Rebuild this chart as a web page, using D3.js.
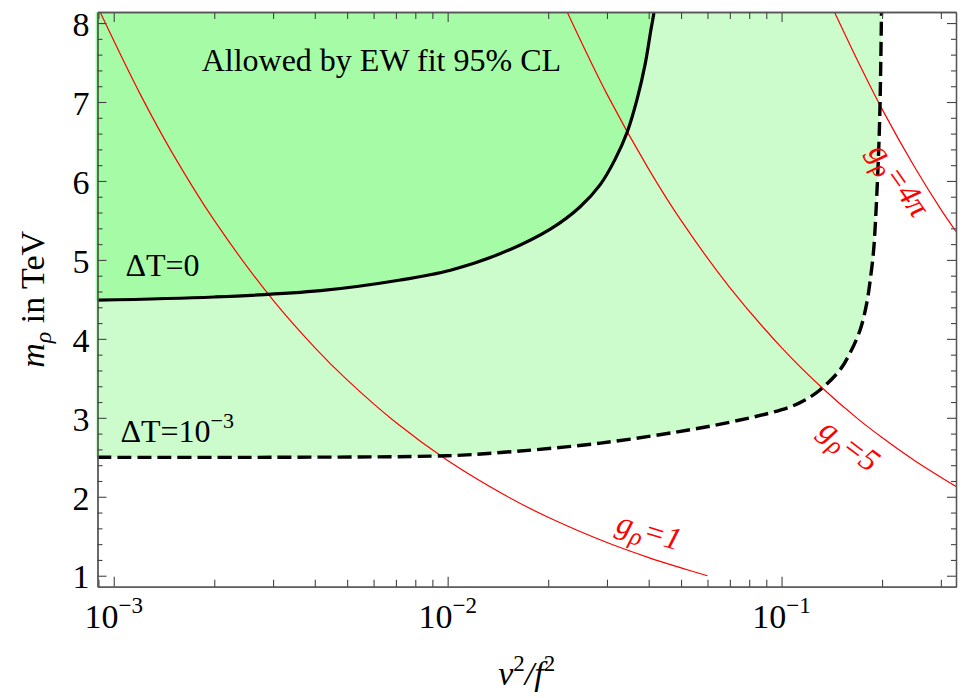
<!DOCTYPE html>
<html>
<head>
    <style>
        body { margin: 0; background: #fff; }
        text { font-family: "Liberation Serif", "Times New Roman", serif; }
        .axis .domain { stroke: #555; stroke-width: 1.3px; }
        .axis .tick line { stroke: #444; stroke-width: 1.1px; }
        .axis text { font-size: 34px; fill: #000; font-family: "Liberation Serif", "Times New Roman", serif; }
        .redlabel { fill: #ff0000; font-size: 32px; font-style: italic; }
        .note { font-size: 32px; fill: #000; }
    </style>
    <script src="https://d3js.org/d3.v7.min.js"></script>
</head>
<body>
    <svg width="963" height="698"></svg>

    <script>
        // values: [v^2/f^2, m_rho (TeV)]
        var deltaT0 = [[8.94e-4, 4.49], [0.002, 4.53], [0.00416, 4.61], [0.00722, 4.745], [0.0102, 4.87],
                       [0.0144, 5.08], [0.0203, 5.39], [0.0249, 5.67], [0.0286, 5.95], [0.0317, 6.27],
                       [0.0345, 6.62], [0.0369, 7.03], [0.0390, 7.47], [0.0406, 7.91], [0.0415, 8.14],
                       [0.0421, 8.42]];
        var deltaT3 = [[8.94e-4, 2.50], [0.003, 2.50], [0.01, 2.52], [0.0144, 2.56], [0.0287, 2.68],
                       [0.057, 2.871], [0.0804, 3.0], [0.0924, 3.061], [0.106, 3.137], [0.1176, 3.226],
                       [0.1303, 3.352], [0.1496, 3.606], [0.1603, 3.82], [0.1718, 4.11], [0.1799, 4.45],
                       [0.1849, 4.79], [0.1883, 5.08], [0.1905, 5.38], [0.1962, 6.61], [0.1992, 8.14],
                       [0.1999, 8.8]];
        var g1 = [[9.1e-4, 8.14], [0.0012, 7.10], [0.0015, 6.35], [0.002, 5.50], [0.003, 4.49], [0.004, 3.89],
                  [0.005, 3.48], [0.007, 2.94], [0.01, 2.46], [0.015, 2.01], [0.02, 1.74], [0.03, 1.42],
                  [0.04, 1.23], [0.05, 1.10], [0.06, 1.00]];
        var g5 = [[0.0228, 8.14], [0.03, 7.10], [0.04, 6.15], [0.05, 5.50], [0.07, 4.65], [0.1, 3.89],
                  [0.13, 3.41], [0.17, 2.98], [0.2, 2.75], [0.25, 2.46], [0.333, 2.13]];
        var g4pi = [[0.144, 8.14], [0.17, 7.50], [0.2, 6.91], [0.25, 6.18], [0.3, 5.64], [0.333, 5.36]];

        var xMajor = [1e-3, 1e-2, 1e-1];
        var xMajorExp = ["\u22123", "\u22122", "\u22121"];
        var xMinor = [9e-4, 2e-3, 3e-3, 4e-3, 5e-3, 6e-3, 7e-3, 8e-3, 9e-3,
                      2e-2, 3e-2, 4e-2, 5e-2, 6e-2, 7e-2, 8e-2, 9e-2, 2e-1, 3e-1];
        var yMajor = [1, 2, 3, 4, 5, 6, 7, 8];

        var svg = d3.select("svg"),
            pLeft = 97.5, pRight = 956, pTop = 12, pBottom = 586.7;

        var x = d3.scaleLog().domain([8.94e-4, 0.333]).range([pLeft, pRight]);
        var y = d3.scaleLinear().domain([0.861, 8.14]).range([pBottom, pTop]);

        var yMinor = d3.range(1, 8.01, 0.2).filter(function(d) { return Math.abs(d - Math.round(d)) > 0.05; });

        svg.append("clipPath").attr("id", "plot")
           .append("rect").attr("x", pLeft - 2).attr("y", pTop)
           .attr("width", pRight - pLeft + 2).attr("height", pBottom - pTop);

        var g = svg.append("g").attr("clip-path", "url(#plot)");

        var area = d3.area()
                     .x(function(d) { return x(d[0]); })
                     .y0(function(d) { return y(d[1]); })
                     .y1(pTop)
                     .curve(d3.curveCatmullRom);
        var line = d3.line()
                     .x(function(d) { return x(d[0]); })
                     .y(function(d) { return y(d[1]); })
                     .curve(d3.curveCatmullRom);

        // allowed regions (first point pulled 2px left like the original's fill)
        function padLeft(s) { return [[x.invert(pLeft - 2), s[0][1]]].concat(s); }
        g.append("path").attr("d", area(padLeft(deltaT3))).attr("fill", "#ccfccc");
        g.append("path").attr("d", area(padLeft(deltaT0))).attr("fill", "#a6fca6");

        // g_rho lines
        [g1, g5, g4pi].forEach(function(s) {
            g.append("path").attr("d", line(s))
             .attr("fill", "none").attr("stroke", "#ff0000").attr("stroke-width", 1.2);
        });

        g.append("path").attr("d", line(deltaT0))
         .attr("fill", "none").attr("stroke", "#000").attr("stroke-width", 3.2);
        g.append("path").attr("d", line(deltaT3))
         .attr("fill", "none").attr("stroke", "#000").attr("stroke-width", 3.4)
         .attr("stroke-dasharray", "14,6");

        // axes, ticks pointing inside
        svg.append("g").attr("class", "axis").attr("transform", "translate(0," + pBottom + ")")
           .call(d3.axisBottom(x).tickValues(xMajor).tickSize(-10).tickSizeOuter(0).tickFormat(""));
        svg.append("g").attr("class", "axis").attr("transform", "translate(0," + pBottom + ")")
           .call(d3.axisBottom(x).tickValues(xMinor).tickSize(-7).tickSizeOuter(0).tickFormat(""));
        svg.append("g").attr("class", "axis").attr("transform", "translate(0," + pTop + ")")
           .call(d3.axisTop(x).tickValues(xMajor).tickSize(-10).tickSizeOuter(0).tickFormat(""));
        svg.append("g").attr("class", "axis").attr("transform", "translate(0," + pTop + ")")
           .call(d3.axisTop(x).tickValues(xMinor).tickSize(-7).tickSizeOuter(0).tickFormat(""));

        svg.append("g").attr("class", "axis").attr("transform", "translate(" + pLeft + ",0)")
           .call(d3.axisLeft(y).tickValues(yMajor).tickSize(-9).tickSizeOuter(0).tickPadding(8).tickFormat(d3.format("d")));
        svg.append("g").attr("class", "axis").attr("transform", "translate(" + pLeft + ",0)")
           .call(d3.axisLeft(y).tickValues(yMinor).tickSize(-5).tickSizeOuter(0).tickFormat(""));
        svg.append("g").attr("class", "axis").attr("transform", "translate(" + pRight + ",0)")
           .call(d3.axisRight(y).tickValues(yMajor).tickSize(-9).tickSizeOuter(0).tickFormat(""));
        svg.append("g").attr("class", "axis").attr("transform", "translate(" + pRight + ",0)")
           .call(d3.axisRight(y).tickValues(yMinor).tickSize(-5).tickSizeOuter(0).tickFormat(""));

        svg.selectAll(".axis text").attr("dy", "0.36em").attr("font-family", null).attr("font-size", null);

        // x tick labels 10^n
        var xl = svg.selectAll(".xlab").data(xMajor).enter().append("text")
                    .attr("class", "xlab").attr("x", function(d) { return x(d); })
                    .attr("y", 628).attr("text-anchor", "middle").style("font-size", "34px");
        xl.append("tspan").text("10");
        xl.append("tspan").attr("dy", -15).style("font-size", "23px").text(function(d, i) { return xMajorExp[i]; });

        // axis titles
        var xt = svg.append("text").attr("x", (pLeft + pRight) / 2).attr("y", 685)
                    .attr("text-anchor", "middle").style("font-size", "34px").style("font-style", "italic");
        xt.append("tspan").text("v");
        xt.append("tspan").attr("dy", -14).style("font-size", "23px").style("font-style", "normal").text("2");
        xt.append("tspan").attr("dy", 14).text("/f");
        xt.append("tspan").attr("dy", -14).style("font-size", "23px").style("font-style", "normal").text("2");

        var yt = svg.append("text").attr("transform", "translate(44," + (pTop + pBottom) / 2 + ") rotate(-90)")
                    .attr("text-anchor", "middle").style("font-size", "34px");
        yt.append("tspan").style("font-style", "italic").text("m");
        yt.append("tspan").attr("dy", 7).style("font-size", "24px").style("font-style", "italic").text("\u03c1");
        yt.append("tspan").attr("dy", -7).text(" in TeV");

        // annotations
        svg.append("text").attr("class", "note").attr("x", x(6.33e-3)).attr("y", y(7.39))
           .attr("text-anchor", "middle").text("Allowed by EW fit 95% CL");
        svg.append("text").attr("class", "note").attr("x", x(1.084e-3)).attr("y", y(4.79))
           .text("\u0394T=0");
        var t3 = svg.append("text").attr("class", "note").attr("x", x(1.047e-3)).attr("y", y(2.69));
        t3.append("tspan").text("\u0394T=10");
        t3.append("tspan").attr("dy", -14).style("font-size", "22px").text("\u22123");

        var glabels = [
            { xi: 0.0393, m: 1.44, angle: 17, txt: "1" },
            { xi: 0.1532, m: 2.55, angle: 37, txt: "5" },
            { xi: 0.2122, m: 5.94, angle: 55, txt: "4\u03c0" }
        ];
        glabels.forEach(function(l) {
            var t = svg.append("text").attr("class", "redlabel").attr("text-anchor", "middle")
                       .attr("transform", "translate(" + x(l.xi) + "," + y(l.m) + ") rotate(" + l.angle + ")");
            t.append("tspan").text("g");
            t.append("tspan").attr("dy", 7).style("font-size", "25px").text("\u03c1");
            t.append("tspan").attr("dy", -7).text("=" + l.txt);
        });
    </script>
</body>
</html>
